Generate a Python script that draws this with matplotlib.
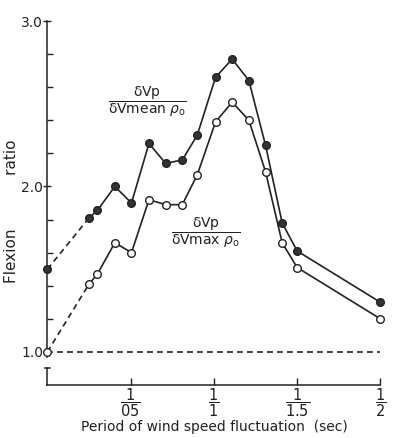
import matplotlib.pyplot as plt
import numpy as np

# period of wind speed fluctuation (sec)
period = [0.0, 0.25, 0.30, 0.405, 0.505, 0.61, 0.71, 0.81, 0.90, 1.01, 1.11, 1.21, 1.31, 1.41, 1.50, 2.0]
# flexion ratio, dVp / dVmean p0 (filled) and dVp / dVmax p0 (open)
flex_mean = [1.50, 1.81, 1.855, 2.00, 1.90, 2.26, 2.14, 2.16, 2.31, 2.66, 2.77, 2.64, 2.25, 1.78, 1.61, 1.30]
flex_max = [1.00, 1.41, 1.47, 1.66, 1.60, 1.92, 1.89, 1.89, 2.07, 2.39, 2.51, 2.40, 2.09, 1.66, 1.51, 1.20]

xticks = [0.5, 1.0, 1.5, 2.0]
xtick_labels = [r'$\dfrac{1}{05}$', r'$\dfrac{1}{1}$', r'$\dfrac{1}{1.5}$', r'$\dfrac{1}{2}$']
yticks = [1.0, 2.0, 3.0]
ytick_labels = ['1.0', '2.0', '3.0']

plt.rcParams['mathtext.fontset'] = 'dejavusans'
plt.rcParams['font.family'] = 'DejaVu Sans'

fig = plt.figure(figsize=(3.95, 4.38), dpi=100)
ax = fig.add_axes([0.120, 0.121, 0.843, 0.831])

lc = '#222222'
lw = 1.2

def draw_series(y, face):
    ax.plot(period[:2], y[:2], color=lc, lw=lw, ls=(0, (3.5, 2.5)), clip_on=False)
    ax.plot(period[1:], y[1:], color=lc, lw=lw, clip_on=False)
    ax.plot(period, y, ls='none', marker='o', ms=5.5, mfc=face, mec=lc, mew=1.0,
            clip_on=False, zorder=5)

draw_series(flex_mean, '#333333')
draw_series(flex_max, 'white')

# reference level
ax.axhline(1.0, color=lc, lw=1.2, ls=(0, (3.5, 2.5)))

ax.set_xlim(0, 2.0)
ax.set_ylim(0.8, 3.0)

ax.spines['top'].set_visible(False)
ax.spines['right'].set_visible(False)
ax.spines['left'].set_bounds(0.97, 3.0)
ax.spines['left'].set_color(lc)
ax.spines['bottom'].set_color(lc)
ax.spines['left'].set_linewidth(1.1)
ax.spines['bottom'].set_linewidth(1.1)

# broken axis stub
ax.plot([0, 0], [0.8, 0.9], color=lc, lw=1.1, clip_on=False)
ax.plot([-0.015, 0.015], [0.9, 0.9], color=lc, lw=1.1, clip_on=False)

ax.set_xticks(xticks)
ax.set_xticklabels(xtick_labels, fontsize=10.5)
ax.tick_params(axis='x', direction='in', length=5, width=1.0, pad=1, colors=lc)

ax.set_yticks(yticks)
ax.set_yticklabels(ytick_labels, fontsize=10)
ax.set_yticks(np.arange(1.2, 3.0, 0.2), minor=True)
ax.tick_params(axis='y', which='major', direction='inout', length=6, width=1.0, pad=0, colors=lc)
ax.tick_params(axis='y', which='minor', direction='in', length=4, width=1.0, colors=lc)

ax.set_xlabel('Period of wind speed fluctuation  (sec)', fontsize=10, labelpad=1, color=lc)
fig.text(0.030, 0.518, 'Flexion           ratio', rotation=90, fontsize=11,
         ha='center', va='center', color=lc)

ax.text(0.60, 2.51, r'$\dfrac{\mathrm{\delta Vp}}{\mathrm{\delta Vmean}\ \rho_{\mathrm{o}}}$',
        fontsize=10, ha='center', va='center', color=lc)
ax.text(0.955, 1.72, r'$\dfrac{\mathrm{\delta Vp}}{\mathrm{\delta Vmax}\ \rho_{\mathrm{o}}}$',
        fontsize=10, ha='center', va='center', color=lc)

fig.savefig('out.png', dpi=100)
